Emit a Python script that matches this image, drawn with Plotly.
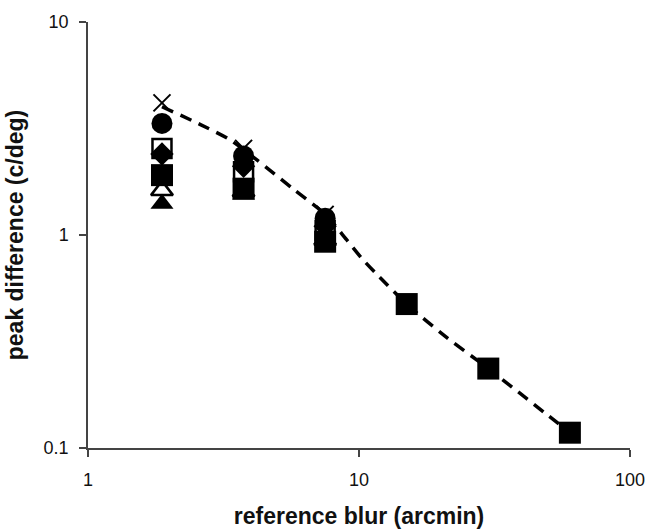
import plotly.graph_objects as go

# reference blur (arcmin)
blur_all = [1.875, 3.75, 7.5, 15, 30, 60]
blur_low = [1.875, 3.75, 7.5]

# observer series (peak difference, c/deg)
filled_square = [1.91, 1.65, 0.93, 0.474, 0.236, 0.118]
open_triangle = [1.62, 1.60, 0.95]
filled_triangle = [1.40, 1.55, 0.94]
open_square = [2.55, 1.98, 1.05]
filled_diamond = [2.40, 2.10, 1.10]
filled_circle = [3.34, 2.35, 1.20]
cross = [4.17, 2.55, 1.25]

# dashed model curve
curve_x = [1.875, 2.6, 3.34, 4.2, 5.7, 7.5, 9.0, 10.3, 11.9, 15, 21.1, 30, 41.7, 60]
curve_y = [4.0, 3.3, 2.8, 2.25, 1.65, 1.25, 0.95, 0.77, 0.635, 0.474, 0.33, 0.236, 0.17, 0.118]

fig = go.Figure()

fig.add_trace(go.Scatter(x=curve_x, y=curve_y, mode="lines",
                         line=dict(color="black", width=3.5, dash="12px,8px", shape="spline",
                                   smoothing=0.8),
                         showlegend=False, hoverinfo="skip"))

def add(xs, ys, symbol, size, lw=0, color="black"):
    fig.add_trace(go.Scatter(x=xs, y=ys, mode="markers", showlegend=False, cliponaxis=False,
                             marker=dict(symbol=symbol, size=size, color=color,
                                         line=dict(color="black", width=lw))))

add(blur_low, filled_triangle, "triangle-up", 20)
add(blur_low, open_triangle, "triangle-up-open", 19, lw=2.5)
add(blur_low, open_square, "square-open", 19, lw=2.5)
add(blur_low, filled_diamond, "diamond", 18)
add(blur_all, filled_square, "square", 22)
add(blur_low, filled_circle, "circle", 21)
add(blur_low, cross, "x-thin", 17, lw=2)

FONT = "Liberation Sans, Arial"
axis_common = dict(type="log", showline=True, linecolor="#444", linewidth=1.5,
                   ticks="outside", ticklen=7, tickcolor="#444", tickwidth=1.5,
                   showgrid=False, zeroline=False, automargin=False,
                   tickfont=dict(family=FONT, size=18, color="#111"),
                   mirror=False)

fig.update_xaxes(**axis_common, range=[0, 2], tickvals=[1, 10, 100],
                 ticktext=["1", "10", "100"], ticklabelstandoff=8,
                 title=dict(text="<b>reference blur (arcmin)</b>",
                            font=dict(family=FONT, size=23, color="#111"),
                            standoff=22))
fig.update_yaxes(**axis_common, range=[-1, 1], tickvals=[0.1, 1, 10],
                 ticktext=["0.1", "1", "10"], ticklabelstandoff=7,
                 title=dict(text="<b>peak difference (c/deg)</b>",
                            font=dict(family=FONT, size=23, color="#111"),
                            standoff=14))

fig.update_layout(width=650, height=529, plot_bgcolor="white", paper_bgcolor="white",
                  margin=dict(l=88, r=20, t=22, b=81), showlegend=False)

# remove the default 8px page margin so the figure fills the window exactly
fig.write_html("out.html", config={"displayModeBar": False},
               post_script="document.body.style.margin='0';")
